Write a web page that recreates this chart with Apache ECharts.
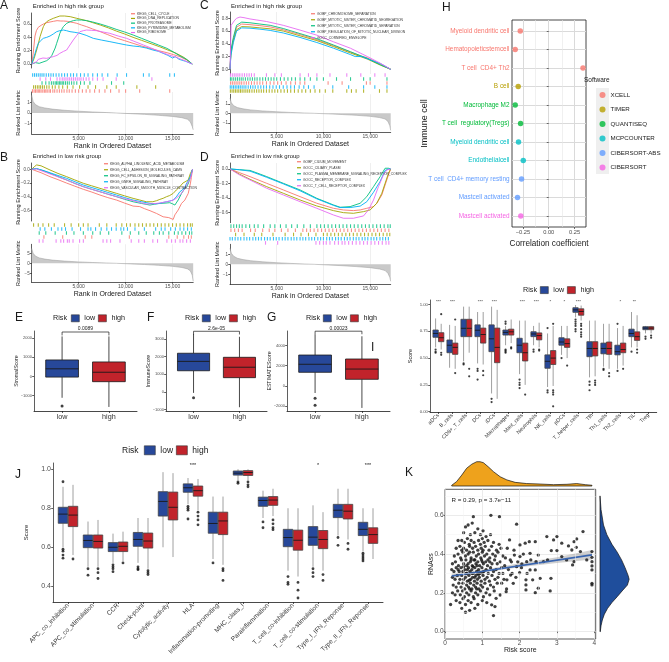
<!DOCTYPE html>
<html>
<head>
<meta charset="utf-8">
<title>Risk model figure</title>
<script src="https://cdn.jsdelivr.net/npm/echarts@6.0.0/dist/echarts.min.js"></script>
<style>
  html, body { margin: 0; padding: 0; background: #fff; }
  #chart { width: 669px; height: 662px; }
</style>
</head>
<body>
<div id="chart"></div>
<script>
// colours
const GS_COLORS = ['#F8766D', '#A3A500', '#00BF7D', '#00B0F6', '#E76BF3'];
const LOW_COLOR = '#27489a';
const HIGH_COLOR = '#c1232b';
const FONT = 'Liberation Sans, Arial, sans-serif';

// ---------------- GSEA (A-D) ----------------
const setsA = ['KEGG_CELL_CYCLE', 'KEGG_DNA_REPLICATION', 'KEGG_PROTEASOME', 'KEGG_PYRIMIDINE_METABOLISM', 'KEGG_RIBOSOME'];
const esA = [
  [[0,0],[150,0.15],[350,0.42],[500,0.5],[700,0.55],[1000,0.58],[1250,0.6],[1600,0.62],[1950,0.63],[2300,0.64],[2700,0.65],[3100,0.645],[3400,0.645],[3800,0.64],[4100,0.63],[4500,0.62],[4800,0.61],[5300,0.585],[5850,0.56],[6500,0.525],[7300,0.485],[8100,0.44],[9000,0.39],[9900,0.35],[10800,0.31],[11700,0.27],[12600,0.235],[13500,0.2],[14400,0.17],[15100,0.14],[15800,0.11],[16500,0.06],[17100,0]],
  [[0,0],[250,0.08],[530,0.21],[700,0.3],[890,0.41],[1050,0.48],[1240,0.56],[1400,0.6],[1600,0.635],[1900,0.66],[2300,0.685],[2600,0.7],[3000,0.72],[3500,0.72],[4100,0.71],[4800,0.685],[5850,0.65],[6500,0.62],[7300,0.585],[8200,0.54],[9000,0.495],[9900,0.45],[10800,0.4],[11700,0.355],[12600,0.31],[13600,0.26],[14500,0.21],[15400,0.16],[16200,0.1],[17100,0]],
  [[0,0],[400,0.02],[800,0.01],[1200,0.03],[1600,0.05],[1950,0.09],[2150,0.13],[2300,0.16],[2500,0.24],[2660,0.31],[2850,0.39],[3000,0.46],[3200,0.52],[3370,0.56],[3550,0.59],[3720,0.61],[4100,0.635],[4430,0.65],[4800,0.66],[5300,0.66],[5850,0.65],[6500,0.63],[7300,0.6],[8200,0.56],[9000,0.52],[9900,0.48],[10800,0.435],[11700,0.385],[12600,0.335],[13500,0.285],[14400,0.235],[15100,0.18],[15800,0.12],[16500,0.07],[17100,0]],
  [[0,0],[180,0.08],[355,0.16],[500,0.23],[710,0.31],[950,0.35],[1240,0.385],[1600,0.4],[1950,0.42],[2300,0.45],[2660,0.485],[3000,0.5],[3370,0.51],[3700,0.5],[4080,0.485],[4600,0.475],[5140,0.46],[5800,0.43],[6560,0.385],[7400,0.36],[8330,0.335],[9200,0.31],[10100,0.285],[10800,0.27],[11500,0.26],[12200,0.24],[12900,0.21],[13500,0.19],[14000,0.16],[14500,0.13],[15000,0.09],[15300,0.11],[15700,0.07],[16400,0.04],[17100,0]],
  [[0,0],[530,0.035],[700,0.07],[890,0.1],[1200,0.09],[1600,0.085],[2000,0.1],[2300,0.11],[2700,0.13],[3000,0.16],[3400,0.19],[3720,0.21],[4000,0.27],[4430,0.36],[4800,0.43],[5140,0.485],[5500,0.5],[5850,0.51],[6400,0.505],[6900,0.5],[7600,0.48],[8330,0.46],[9200,0.42],[10100,0.385],[11000,0.335],[11900,0.285],[12800,0.235],[13650,0.185],[14500,0.14],[15400,0.1],[16300,0.05],[17100,0]]
];
const hitsA = [
  [80,250,400,560,700,850,1000,1180,1350,1500,1650,1850,2000,2250,2450,2700,2950,3200,3450,3750,4000,4300,4650,5000,5400,5800,6200,6700,7200,7800,8400,9300,10000,11500,14700],
  [200,400,600,780,950,1150,1350,1600,1850,2200,2500,2900,3300,3800,4400,5100,6000,6800,8000,9000,11200,13200],
  [1100,1500,1850,2100,2300,2500,2650,2800,2950,3100,3250,3400,3600,3800,4000,4250,4500,4800,5200,5600,6200,8500,9800],
  [100,300,500,700,900,1100,1300,1550,1800,2050,2300,2600,2900,3200,3500,3800,4150,4450,4800,5200,5600,6000,6500,7000,7500,8100,9100,10100,11900,12500,14700,15200],
  [900,1500,2000,2700,3000,3250,3450,3650,3850,4050,4250,4450,4650,4850,5050,5250,5500,5800,6100,6500,7000,7600,9000,12800]
];
const rowsA = [3, 4, 2, 1, 0]; // hit rows from top
const metricA = [[0,1.7],[150,1.1],[400,0.8],[800,0.6],[1400,0.48],[2200,0.37],[3500,0.26],[5000,0.17],[6500,0.1],[8000,0.04],[9000,0],[10500,-0.06],[12000,-0.13],[13500,-0.22],[15000,-0.33],[16000,-0.45],[16600,-0.6],[16900,-0.85],[17100,-1.3],[17200,-1.6]];

const setsB = ['KEGG_ALPHA_LINOLENIC_ACID_METABOLISM', 'KEGG_CELL_ADHESION_MOLECULES_CAMS', 'KEGG_FC_EPSILON_RI_SIGNALING_PATHWAY', 'KEGG_GNRH_SIGNALING_PATHWAY', 'KEGG_VASCULAR_SMOOTH_MUSCLE_CONTRACTION'];
const esB = [
  [[0,0],[1000,-0.05],[1950,-0.107],[2800,-0.15],[3720,-0.2],[4600,-0.245],[5500,-0.29],[6400,-0.33],[7270,-0.373],[8100,-0.41],[9040,-0.446],[9900,-0.49],[10800,-0.533],[11000,-0.52],[11500,-0.54],[12000,-0.57],[12600,-0.6],[13300,-0.64],[14000,-0.688],[14200,-0.67],[14600,-0.7],[15070,-0.726],[15250,-0.66],[15450,-0.67],[15600,-0.59],[15800,-0.6],[15960,-0.494],[16150,-0.5],[16310,-0.446],[16500,-0.44],[16670,-0.35],[16800,-0.33],[16910,-0.2],[17000,-0.12],[17130,0]],
  [[0,0],[300,0.04],[530,0.063],[1000,0.05],[1950,-0.01],[2800,-0.06],[3720,-0.107],[4600,-0.155],[5500,-0.203],[6400,-0.24],[7270,-0.276],[8100,-0.31],[9040,-0.349],[9900,-0.385],[10800,-0.421],[11500,-0.445],[12200,-0.47],[12900,-0.47],[13300,-0.455],[13650,-0.436],[14000,-0.42],[14360,-0.397],[14700,-0.38],[15070,-0.349],[15400,-0.3],[15780,-0.252],[16100,-0.2],[16300,-0.18],[16670,-0.155],[16900,-0.06],[17130,0]],
  [[0,0],[500,0.01],[1200,-0.02],[1950,-0.058],[2800,-0.105],[3720,-0.155],[4600,-0.205],[5500,-0.252],[6400,-0.29],[7270,-0.325],[8100,-0.36],[9040,-0.397],[9900,-0.435],[10800,-0.47],[11700,-0.495],[12590,-0.518],[13100,-0.505],[13650,-0.494],[14200,-0.49],[14700,-0.484],[15000,-0.5],[15250,-0.518],[15600,-0.445],[15960,-0.349],[16200,-0.3],[16500,-0.252],[16700,-0.2],[16900,-0.107],[17130,0]],
  [[0,0],[500,0.01],[1200,-0.015],[1950,-0.05],[2800,-0.09],[3720,-0.131],[4600,-0.18],[5500,-0.228],[6400,-0.265],[7270,-0.3],[8100,-0.335],[9040,-0.373],[9900,-0.41],[10800,-0.446],[11700,-0.47],[12590,-0.494],[13100,-0.5],[13650,-0.494],[14000,-0.48],[14360,-0.47],[14700,-0.46],[15070,-0.446],[15400,-0.4],[15780,-0.325],[16050,-0.3],[16310,-0.252],[16600,-0.18],[16900,-0.107],[17130,0]],
  [[0,0],[500,0.005],[1200,-0.03],[1950,-0.068],[2800,-0.11],[3720,-0.155],[4600,-0.205],[5500,-0.252],[6400,-0.29],[7270,-0.325],[8100,-0.36],[9040,-0.397],[9900,-0.425],[10800,-0.455],[11500,-0.48],[12230,-0.504],[12800,-0.5],[13300,-0.494],[13800,-0.485],[14360,-0.47],[14700,-0.46],[15070,-0.446],[15400,-0.42],[15780,-0.373],[16050,-0.33],[16310,-0.276],[16600,-0.2],[16900,-0.131],[17050,-0.05],[17130,0]]
];
const hitsB = [
  [1300,3300,5700,6400,10400,14600,15500,16200,16700,17000],
  [200,700,1200,1800,2400,3500,4200,5000,5500,6000,7200,8000,9000,9600,10100,10500,11000,11400,11800,12200,12600,13000,13400,13800,14200,14600,15000,15400,15800,16200,16600,16900,17100],
  [800,1500,2500,3700,4500,5500,6500,7300,8200,9600,10500,11400,12200,13000,13600,14000,14600,15200,15600,16000,16400,16800,17050],
  [900,1400,2100,2800,3200,3600,4300,5200,6000,6300,6800,7400,8000,8500,9000,9500,9800,10200,11000,12000,13200,13800,14200,14800,15300,15800,16200,16600,17000],
  [800,1200,2600,3100,3400,3800,4000,4400,5100,5500,7600,8000,8400,9400,10600,11400,12000,12900,13400,14400,14900,15300,15800,16100,16500,16900]
];
const rowsB = [1, 3, 2, 0, 4];
const metricB = [[0,7.5],[150,5.0],[400,3.6],[800,2.7],[1400,2.1],[2200,1.6],[3500,1.1],[5000,0.7],[6500,0.4],[8000,0.15],[9000,0],[10500,-0.3],[12000,-0.6],[13500,-1.0],[15000,-1.5],[16000,-2.1],[16600,-2.8],[16900,-3.8],[17100,-6],[17200,-9]];

const setsC = ['GOBP_CHROMOSOME_SEPARATION', 'GOBP_MITOTIC_SISTER_CHROMATID_SEGREGATION', 'GOBP_MITOTIC_SISTER_CHROMATID_SEPARATION', 'GOBP_REGULATION_OF_MITOTIC_NUCLEAR_DIVISION', 'GOCC_CORNIFIED_ENVELOPE'];
const esC = [
  [[0,0],[100,0.28],[360,0.47],[700,0.66],[1250,0.71],[2140,0.7],[3200,0.685],[4300,0.665],[5700,0.62],[7500,0.545],[9300,0.465],[11100,0.37],[12900,0.27],[14000,0.21],[14700,0.18],[16100,0.08],[17200,0]],
  [[0,0],[100,0.25],[360,0.45],[700,0.62],[1250,0.67],[2140,0.665],[3200,0.65],[4300,0.635],[5700,0.6],[7500,0.525],[9300,0.45],[11100,0.355],[12900,0.255],[14700,0.16],[16100,0.065],[17200,0]],
  [[0,0],[100,0.3],[360,0.5],[700,0.69],[1250,0.74],[2140,0.73],[3200,0.71],[4300,0.69],[5700,0.64],[7500,0.56],[9300,0.48],[11100,0.38],[12900,0.275],[14700,0.17],[16100,0.07],[17200,0]],
  [[0,0],[100,0.22],[360,0.42],[700,0.6],[1250,0.65],[2140,0.645],[3200,0.63],[4300,0.61],[5700,0.57],[7500,0.5],[9300,0.42],[11100,0.33],[12900,0.23],[13400,0.2],[14100,0.2],[14700,0.165],[16100,0.09],[17200,0]],
  [[0,0],[60,0.35],[120,0.69],[250,0.68],[450,0.76],[700,0.8],[1070,0.82],[1500,0.81],[2140,0.79],[2800,0.775],[3900,0.75],[5700,0.69],[7500,0.615],[9300,0.535],[11100,0.43],[12900,0.33],[14700,0.2],[16100,0.094],[17200,0]]
];
const hitsC = [
  [60,250,450,650,850,1050,1250,1500,1750,2000,2300,2600,2900,3200,3500,3900,4300,4700,5100,5500,6000,6500,7000,7500,8000,10500,12000,14600,15000,16800],
  [40,220,400,580,760,940,1120,1300,1500,1700,1900,2100,2350,2600,2850,3100,3350,3600,3900,4200,4500,4800,5100,5450,5800,6150,6500,6900,7300,7700,8100,8600,9100,9600,10200,11000,12500,13000,13500,14300,16000,16800],
  [50,200,400,600,800,1000,1200,1400,1650,1900,2150,2400,2650,2900,3200,3500,3800,4100,4400,4700,5000,5400,5800,6200,6600,7000,7500,8000,8600,9300,10000,11400,12900,14300,15000,16800],
  [30,200,380,560,740,920,1100,1300,1500,1700,1950,2200,2450,2700,3000,3300,3600,3900,4250,4600,4950,5300,5700,6100,6500,6900,7400,7900,8400,9000,11000,12700,14300,15500,16800],
  [50,250,450,650,850,1050,1300,1550,1800,2050,2300,2600,3900,4800,5500,7500,8400,9300,10700,12500,14000,15500,16600]
];
const rowsC = [4, 2, 0, 3, 1];
const metricC = [[0,1.6],[150,1.1],[400,0.8],[800,0.6],[1400,0.47],[2200,0.36],[3500,0.25],[5000,0.16],[6500,0.09],[8000,0.03],[9000,0],[10500,-0.06],[12000,-0.13],[13500,-0.21],[15000,-0.32],[16000,-0.45],[16600,-0.6],[16900,-0.85],[17100,-1.3],[17200,-1.8]];

const setsD = ['GOBP_CILIUM_MOVEMENT', 'GOCC_CILIARY_PLASM', 'GOCC_PLASMA_MEMBRANE_SIGNALING_RECEPTOR_COMPLEX', 'GOCC_RECEPTOR_COMPLEX', 'GOCC_T_CELL_RECEPTOR_COMPLEX'];
const esD = [
  [[0,0],[1000,-0.05],[2140,-0.105],[3930,-0.197],[5710,-0.288],[7500,-0.38],[9290,-0.471],[11070,-0.54],[12140,-0.563],[13210,-0.572],[13930,-0.563],[14640,-0.54],[15360,-0.517],[15710,-0.471],[16250,-0.357],[16600,-0.22],[16960,-0.082],[17200,0]],
  [[0,0],[1000,-0.07],[2140,-0.142],[3930,-0.243],[5710,-0.334],[7500,-0.426],[9290,-0.508],[11070,-0.572],[12140,-0.6],[13210,-0.609],[14290,-0.586],[15000,-0.563],[15710,-0.471],[16250,-0.334],[16600,-0.197],[16960,-0.06],[17200,0]],
  [[0,0],[1000,-0.01],[2140,-0.02],[3000,-0.06],[3930,-0.105],[5710,-0.197],[7500,-0.288],[9290,-0.403],[11070,-0.494],[11780,-0.526],[12860,-0.517],[13930,-0.471],[14640,-0.38],[15360,-0.243],[16070,-0.105],[16600,0.01],[16960,0.01],[17200,0]],
  [[0,0],[1000,-0.01],[2140,-0.03],[3000,-0.07],[3930,-0.115],[5710,-0.205],[7500,-0.3],[9290,-0.41],[11070,-0.5],[11780,-0.53],[12860,-0.53],[13930,-0.51],[14640,-0.45],[15360,-0.32],[16070,-0.17],[16600,-0.02],[16960,0],[17200,0]],
  [[0,0],[1000,-0.08],[2140,-0.151],[3930,-0.265],[5710,-0.357],[7500,-0.449],[9290,-0.54],[11070,-0.632],[12140,-0.677],[13210,-0.677],[14290,-0.645],[14820,-0.563],[15360,-0.426],[15890,-0.243],[16420,-0.082],[16780,-0.014],[17200,0]]
];
const hitsD = [
  [100,500,900,1300,2200,2700,3500,4200,4800,5500,6200,7000,7800,8200,8600,9000,9400,9800,10200,10600,11000,11400,11800,12200,12600,13000,13400,13800,14200,14600,15000,15400,15800,16200,16600,17000],
  [600,1500,2600,3400,4600,5900,6800,7600,8400,9200,10000,10400,10800,11200,11600,12000,12400,12800,13200,13600,14000,14400,14800,15200,15600,16000,16400,16800,17100],
  [100,400,700,1000,1300,1700,2100,2600,3000,3600,4300,4800,5400,6000,6600,7200,7900,8600,9300,9700,10100,10500,10900,11300,11700,12100,12500,12900,13300,13700,14100,14500,14900,15300,15700,16100,16500,16900,17150],
  [0,250,550,850,1150,1500,1800,2100,2450,2750,3050,3350,3700,4000,4300,4650,4950,5250,5600,5900,6200,6550,6850,7150,7500,7800,8100,8450,8750,9050,9400,9700,10000,10350,10650,10950,11300,11600,11900,12250,12550,12850,13200,13500,13800,14150,14450,14750,15100,15400,15700,16050,16350,16650,16950],
  [3800,5100,9200,9600,10000,10300,10700,11200,11600,12000,12300,12700,13100,13500,13900,14300,14700,15100,15500,15900,16300,16700,17000]
];
const rowsD = [2, 0, 1, 3, 4];
const metricD = [[0,1.6],[150,1.1],[400,0.8],[800,0.6],[1400,0.47],[2200,0.36],[3500,0.25],[5000,0.16],[6500,0.09],[8000,0.03],[9000,0],[10500,-0.07],[12000,-0.14],[13500,-0.23],[15000,-0.34],[16000,-0.47],[16600,-0.62],[16900,-0.9],[17100,-1.3],[17200,-1.7]];
const rankTicks = [5000, 10000, 15000];

// ---------------- H: correlation lollipop ----------------
const immuneCells = ['Myeloid dendritic cell', 'Hematopoieticstemcell', 'T cell  CD4+ Th2', 'B cell', 'Macrophage M2', 'T cell  regulatory(Tregs)', 'Myeloid dendritic cell', 'Endothelialcell', 'T cell  CD4+ memory resting', 'Mastcell activated', 'Mastcell activated'];
const cellSoftware = ['XCELL', 'XCELL', 'XCELL', 'TIMER', 'QUANTISEQ', 'QUANTISEQ', 'MCPCOUNTER', 'MCPCOUNTER', 'CIBERSORT-ABS', 'CIBERSORT-ABS', 'CIBERSORT'];
const cellCorr = [-0.275, -0.324, 0.331, -0.295, -0.324, -0.272, -0.292, -0.246, -0.263, -0.302, -0.270];
const softwares = ['XCELL', 'TIMER', 'QUANTISEQ', 'MCPCOUNTER', 'CIBERSORT-ABS', 'CIBERSORT'];
const softwareColors = ['#F8766D', '#B79F00', '#00BA38', '#00BFC4', '#619CFF', '#F564E3'];

// ---------------- E/F/G: ESTIMATE scores ----------------
const riskGroups = ['low', 'high'];
const stromalStats = [[-1120, -36, 400, 865, 2100], [-1600, -275, 220, 760, 2100]];
const stromalOut = [[-1550], []];
const immuneStats = [[-50, 1200, 1730, 2190, 3280], [-860, 810, 1400, 1960, 3120]];
const immuneOut = [[-330], []];
const estimateStats = [[-690, 1350, 2140, 3050, 5100], [-2160, 660, 1670, 2660, 4900]];
const estimateOut = [[-1210, -1900], []];
const scorePvals = ['0.0089', '2.6e-05', '0.00023'];

// ---------------- I: immune cell scores ----------------
const cellsI = ['aDCs', 'B_cells', 'CD8+_T_cells', 'DCs', 'iDCs', 'Macrophages', 'Mast_cells', 'Neutrophils', 'NK_cells', 'pDCs', 'T_helper_cells', 'Tfh', 'Th1_cells', 'Th2_cells', 'TIL', 'Treg'];
const lowI = [[0.60,0.694,0.73,0.762,0.87],[0.41,0.55,0.62,0.669,0.81],[0.47,0.70,0.778,0.862,0.98],[0.45,0.70,0.76,0.81,0.93],[0.17,0.56,0.68,0.81,0.98],[0.62,0.715,0.74,0.762,0.80],[0.35,0.55,0.62,0.685,0.85],[0.62,0.70,0.725,0.746,0.80],[0.23,0.405,0.47,0.53,0.73],[0.53,0.62,0.65,0.69,0.80],[0.88,0.927,0.95,0.97,0.995],[0.32,0.513,0.59,0.653,0.85],[0.42,0.54,0.59,0.64,0.82],[0.40,0.53,0.56,0.62,0.78],[0.60,0.70,0.73,0.77,0.93],[0.73,0.765,0.78,0.793,0.80]];
const highI = [[0.58,0.653,0.69,0.737,0.82],[0.40,0.535,0.60,0.64,0.80],[0.55,0.70,0.778,0.862,0.98],[0.44,0.64,0.72,0.78,0.93],[0.12,0.457,0.60,0.78,0.95],[0.64,0.715,0.745,0.77,0.86],[0.25,0.473,0.55,0.64,0.85],[0.60,0.67,0.71,0.735,0.83],[0.24,0.44,0.50,0.57,0.80],[0.50,0.60,0.635,0.68,0.80],[0.85,0.90,0.935,0.96,0.99],[0.33,0.52,0.59,0.653,0.85],[0.40,0.535,0.59,0.65,0.82],[0.43,0.55,0.58,0.64,0.80],[0.60,0.665,0.70,0.745,0.90],[0.73,0.765,0.78,0.793,0.80]];
const lowOutI = [[0.58,0.56,0.55],[],[0.45,0.44],[0.40,0.38,0.30],[0.12,0.09],[0.84,0.82,0.58,0.57,0.56,0.55],[0.30,0.27,0.25,0.22],[0.58,0.56],[0.20,0.18,0.78],[0.50],[0.86,0.84,0.82,0.80,0.77,0.75],[0.28,0.25,0.20],[0.40,0.39],[0.38,0.82],[0.56],[0.70,0.68]];
const highOutI = [[0.91,0.55,0.53],[0.86,0.36],[0.40,0.33],[0.38,0.34],[],[0.60,0.59],[0.16],[0.58,0.57],[0.82,0.20,0.18,0.16,0.05],[0.43],[0.82,0.80,0.77,0.74,0.72,0.70],[0.29,0.27,0.25],[0.36,0.33],[0.40],[0.58,0.55],[0.71,0.69]];
const sigI = ['***', '***', '', '***', '***', '', '***', '***', '*', '*', '***', '', '', '*', '**', ''];

// ---------------- J: immune function scores ----------------
const functionsJ = ['APC_co_inhibition', 'APC_co_stimulation', 'CCR', 'Check-point', 'Cytolytic_activity', 'HLA', 'Inflammation-promoting', 'MHC_class_I', 'Parainflammation', 'T_cell_co-inhibition', 'T_cell_co-stimulation', 'Type_I_IFN_Reponse', 'Type_II_IFN_Reponse'];
const lowJ = [[0.60,0.723,0.77,0.805,0.91],[0.50,0.598,0.635,0.663,0.732],[0.52,0.578,0.60,0.624,0.67],[0.52,0.605,0.64,0.676,0.75],[0.60,0.76,0.835,0.885,0.985],[0.82,0.882,0.905,0.925,0.955],[0.54,0.672,0.722,0.78,0.86],[0.945,0.97,0.98,0.991,1.0],[0.75,0.81,0.84,0.857,0.89],[0.48,0.603,0.65,0.692,0.80],[0.50,0.61,0.652,0.706,0.815],[0.66,0.752,0.79,0.82,0.90],[0.58,0.66,0.692,0.728,0.80]];
const highJ = [[0.56,0.706,0.765,0.81,0.92],[0.50,0.596,0.63,0.663,0.74],[0.53,0.578,0.605,0.627,0.68],[0.49,0.596,0.632,0.673,0.75],[0.55,0.74,0.805,0.883,0.98],[0.79,0.862,0.89,0.914,0.95],[0.51,0.665,0.735,0.78,0.86],[0.945,0.968,0.983,0.993,1.0],[0.76,0.815,0.842,0.86,0.90],[0.45,0.585,0.636,0.688,0.80],[0.48,0.593,0.64,0.686,0.78],[0.64,0.745,0.785,0.82,0.90],[0.54,0.62,0.665,0.70,0.80]];
const lowOutJ = [[0.936,0.59,0.58,0.56,0.544],[0.49,0.457],[0.51,0.50,0.49,0.475],[0.50,0.49,0.485],[],[0.81,0.80,0.79,0.745],[0.52],[0.935,0.928],[0.73,0.70],[0.45,0.42,0.41],[0.49,0.47,0.45],[0.65,0.61],[0.57,0.56,0.55,0.54,0.53]];
const highOutJ = [[0.54],[0.49,0.47,0.44],[0.52],[0.48,0.47,0.46],[],[0.78,0.76,0.74,0.715],[0.49,0.48,0.43],[0.935,0.92,0.91],[0.74,0.72,0.70,0.69],[0.42,0.38,0.34],[0.46,0.43],[0.62,0.59],[]];
const sigJ = ['', '', '', '', '', '***', '', '', '', '', '*', '', '***'];

// ---------------- K: risk score vs RNAss ----------------
const riskRnass = [
  [0.55,0.54],[0.62,0.55],[0.73,0.56],[0.88,0.53],[0.95,0.5],[1.02,0.52],[1.1,0.49],[0.5,0.51],[0.68,0.5],[1.22,0.5],[0.8,0.51],
  [0.45,0.47],[0.52,0.46],[0.6,0.48],[0.7,0.47],[0.78,0.46],[0.9,0.47],[1.0,0.48],[1.05,0.46],[1.15,0.47],[1.3,0.46],[1.45,0.45],[0.35,0.47],[0.65,0.45],[0.95,0.45],
  [0.3,0.43],[0.4,0.44],[0.5,0.43],[0.58,0.42],[0.66,0.44],[0.74,0.43],[0.82,0.44],[0.88,0.42],[0.97,0.43],[1.08,0.44],[1.18,0.42],[1.25,0.44],[1.38,0.42],[1.5,0.43],[0.45,0.42],[1.02,0.42],
  [0.25,0.39],[0.35,0.4],[0.42,0.38],[0.48,0.41],[0.55,0.39],[0.62,0.4],[0.7,0.38],[0.76,0.41],[0.84,0.39],[0.9,0.4],[0.96,0.38],[1.0,0.41],[1.06,0.39],[1.12,0.4],[1.2,0.38],[1.28,0.4],[1.35,0.39],[1.42,0.41],[1.55,0.39],[0.8,0.37],[0.66,0.41],[1.15,0.37],
  [0.2,0.35],[0.28,0.36],[0.36,0.34],[0.44,0.37],[0.5,0.35],[0.56,0.37],[0.62,0.35],[0.68,0.36],[0.73,0.34],[0.78,0.37],[0.83,0.35],[0.88,0.36],[0.93,0.34],[0.98,0.37],[1.03,0.35],[1.09,0.36],[1.14,0.34],[1.2,0.36],[1.26,0.35],[1.33,0.37],[1.4,0.35],[1.48,0.36],[0.58,0.34],[0.86,0.34],[1.0,0.36],[0.7,0.37],
  [0.18,0.32],[0.24,0.31],[0.3,0.33],[0.38,0.31],[0.43,0.33],[0.48,0.31],[0.53,0.32],[0.58,0.3],[0.63,0.33],[0.67,0.31],[0.72,0.32],[0.76,0.3],[0.8,0.33],[0.85,0.31],[0.9,0.32],[0.94,0.3],[0.99,0.33],[1.04,0.31],[1.1,0.32],[1.16,0.3],[1.22,0.33],[1.3,0.31],[1.37,0.32],[1.45,0.3],[1.52,0.33],[0.6,0.32],[0.75,0.335],[0.88,0.3],[1.0,0.305],[0.5,0.335],[0.35,0.32],
  [0.2,0.28],[0.27,0.27],[0.33,0.29],[0.4,0.27],[0.45,0.29],[0.5,0.27],[0.55,0.28],[0.6,0.26],[0.64,0.29],[0.69,0.27],[0.74,0.28],[0.79,0.26],[0.83,0.29],[0.87,0.27],[0.92,0.28],[0.97,0.26],[1.02,0.29],[1.07,0.27],[1.13,0.28],[1.19,0.26],[1.26,0.29],[1.34,0.27],[1.42,0.28],[0.57,0.3],[0.72,0.3],[0.9,0.295],[0.65,0.265],[0.8,0.28],
  [0.22,0.24],[0.3,0.23],[0.37,0.25],[0.43,0.23],[0.48,0.25],[0.53,0.22],[0.58,0.24],[0.63,0.23],[0.68,0.25],[0.72,0.22],[0.77,0.24],[0.82,0.23],[0.86,0.25],[0.91,0.22],[0.96,0.24],[1.01,0.23],[1.07,0.25],[1.14,0.22],[1.22,0.24],[1.3,0.23],[1.4,0.25],[0.66,0.22],[0.85,0.22],
  [0.2,0.2],[0.27,0.19],[0.34,0.21],[0.41,0.19],[0.47,0.21],[0.52,0.18],[0.58,0.2],[0.64,0.19],[0.7,0.21],[0.76,0.18],[0.82,0.2],[0.88,0.19],[0.95,0.21],[1.03,0.18],[1.1,0.2],[1.2,0.19],[1.32,0.21],
  [0.15,0.14],[0.3,0.16],[0.4,0.15],[0.48,0.17],[0.55,0.14],[0.62,0.16],[0.7,0.15],[0.78,0.17],[0.88,0.14],[1.0,0.16],[1.12,0.15],
  [0.55,0.1],[0.66,0.11],[0.45,0.12],[0.8,0.12],
  [1.55,0.3],[1.6,0.34],[1.58,0.27],[1.7,0.32],[1.62,0.38],[1.52,0.25],[1.65,0.22],[1.78,0.36],[1.8,0.3],[1.9,0.28],[1.85,0.42],[1.95,0.36],[2.05,0.33],[2.1,0.4],[2.3,0.37],[2.2,0.3],
  [1.92,0.554],[1.46,0.593],[1.23,0.6],[0.76,0.593],[3.7,0.516],[3.53,0.478],[3.0,0.49],[2.73,0.49],[2.91,0.473],[3.13,0.456],[3.46,0.464],[3.31,0.442],[3.52,0.435],[3.4,0.421],[3.63,0.413],
  [3.94,0.413],[3.94,0.383],[3.94,0.361],[3.94,0.339],[3.94,0.318],[3.94,0.249],[3.94,0.241],[2.85,0.418],[3.0,0.418],[2.42,0.464],[2.26,0.464],[2.15,0.456],[2.01,0.447],[1.73,0.473],[1.67,0.43],
  [2.28,0.404],[2.5,0.395],[2.64,0.361],[2.75,0.37],[2.44,0.361],[2.19,0.361],[2.28,0.318],[2.42,0.318],[2.55,0.275],[2.84,0.275],[2.17,0.267],[2.17,0.241],[2.17,0.215],[2.42,0.201],[2.5,0.224],
  [2.35,0.267],[2.82,0.21],[2.0,0.304],[1.92,0.335],[2.06,0.349],[1.76,0.292],[1.83,0.249],[1.66,0.267],[1.64,0.206],[1.86,0.395],[2.01,0.387],[1.75,0.37],[3.13,0.387],[3.26,0.37],[3.42,0.344],
  [3.46,0.361],[3.8,0.37],[1.48,0.189],[1.37,0.172],[1.34,0.129],[1.3,0.083],[1.25,0.138]
];
const fitLine = [[0.18, 0.287], [3.94, 0.396]];
const bandX = [0.18, 1, 2, 3, 3.94];
const bandLo = [0.273, 0.305, 0.332, 0.354, 0.372];
const bandHi = [0.301, 0.318, 0.352, 0.384, 0.421];
const riskDensX = [0.18, 0.31, 0.45, 0.58, 0.72, 0.85, 0.94, 1.03, 1.16, 1.3, 1.48, 1.66, 1.88, 2.19, 2.55, 2.91, 3.27, 3.53, 3.76, 3.94];
const riskDens = [0.03, 0.18, 0.45, 0.73, 0.9, 1.0, 1.0, 0.96, 0.79, 0.59, 0.38, 0.25, 0.15, 0.1, 0.08, 0.055, 0.07, 0.1, 0.055, 0.03];
const rnassDensY = [0.70, 0.63, 0.55, 0.50, 0.45, 0.41, 0.37, 0.33, 0.29, 0.27, 0.24, 0.21, 0.18, 0.15, 0.12, 0.09, 0.06, 0.03, 0.0];
const rnassDens = [0, 0.035, 0.12, 0.235, 0.41, 0.59, 0.74, 0.86, 0.965, 1.0, 0.94, 0.76, 0.59, 0.41, 0.26, 0.15, 0.08, 0.035, 0.01];

// ================= option building =================
const option = {
  animation: false,
  textStyle: { fontFamily: FONT },
  grid: [], xAxis: [], yAxis: [], series: [], legend: [],
  graphic: { elements: [] }
};

function addGrid(rect, xAxis, yAxis) {
  const idx = option.grid.length;
  option.grid.push(Object.assign({ containLabel: false }, rect));
  xAxis.gridIndex = idx;
  yAxis.gridIndex = idx;
  option.xAxis.push(xAxis);
  option.yAxis.push(yAxis);
  return idx;
}

function minus(s) { return String(s).replace('-', '\u2212'); }

function txt(x, y, s, size, opt) {
  opt = opt || {};
  option.graphic.elements.push({
    type: 'text', x: x, y: y, rotation: opt.rot || 0, silent: true, z: 50,
    style: {
      text: s, fontSize: size, fontFamily: FONT, fill: opt.color || '#1a1a1a',
      align: opt.align || 'left', textAlign: opt.align || 'left',
      verticalAlign: opt.va || 'middle', textVerticalAlign: opt.va || 'middle'
    }
  });
}

function valueAxis(min, max, ticks, fmt, fs, extra) {
  return Object.assign({
    type: 'value', min: min, max: max,
    axisLine: { show: true, onZero: false, lineStyle: { color: '#1a1a1a', width: 0.7 } },
    axisTick: { show: true, length: 1.8, customValues: ticks, lineStyle: { color: '#1a1a1a', width: 0.7 } },
    axisLabel: { show: true, customValues: ticks, formatter: fmt, fontSize: fs, margin: 2, color: '#4d4d4d' },
    splitLine: { show: false }
  }, extra || {});
}

function axisName(name, gap, fs) {
  return { name: name, nameLocation: 'middle', nameGap: gap, nameMoveOverlap: false, nameTextStyle: { fontSize: fs, color: '#1a1a1a' } };
}

function hiddenAxis(min, max) {
  return { type: 'value', min: min, max: max, show: false, splitLine: { show: false } };
}

// ---------- GSEA panel ----------
function gsea(c) {
  const fmt1 = v => minus((+v).toFixed(1));
  const gridX = () => ({
    type: 'value', min: 0, max: 17200,
    axisLine: { show: false },
    axisTick: { show: false, customValues: rankTicks },
    axisLabel: { show: false, customValues: rankTicks },
    splitLine: { show: true, lineStyle: { color: '#e8e8e8', width: 0.7 } }
  });
  const gEs = addGrid({ left: c.left, top: c.es[0], width: c.width, height: c.es[1] },
    gridX(),
    valueAxis(c.es[2], c.es[3], c.es[4], fmt1, 4.5, axisName('Running Enrichment Score', 10, 5.5)));
  c.curves.forEach((pts, k) => {
    option.series.push({
      type: 'line', name: c.names[k], xAxisIndex: gEs, yAxisIndex: gEs, data: pts,
      showSymbol: false, silent: true, lineStyle: { color: GS_COLORS[k], width: 0.9 }, itemStyle: { color: GS_COLORS[k] }
    });
  });

  const gHit = addGrid({ left: c.left, top: c.hit[0], width: c.width, height: c.hit[1] }, hiddenAxis(0, 17200), hiddenAxis(0, 5));
  c.hits.forEach((arr, k) => {
    const row = 4.5 - c.rows.indexOf(k);
    option.series.push({
      type: 'scatter', xAxisIndex: gHit, yAxisIndex: gHit, symbol: 'rect', symbolSize: [1.1, 3.6], silent: true,
      data: arr.map(r => [r, row]), itemStyle: { color: GS_COLORS[k] }
    });
  });

  const xm = gridX();
  xm.axisLine = { show: true, onZero: false, lineStyle: { color: '#1a1a1a', width: 0.7 } };
  xm.axisTick = { show: true, length: 1.5, customValues: rankTicks, lineStyle: { color: '#1a1a1a', width: 0.7 } };
  xm.axisLabel = { show: true, customValues: rankTicks, fontSize: 5, margin: 2, color: '#4d4d4d' };
  Object.assign(xm, axisName('Rank in Ordered Dataset', 8.5, 7));
  const gMet = addGrid({ left: c.left, top: c.met[0], width: c.width, height: c.met[1] },
    xm, valueAxis(c.met[2], c.met[3], c.met[4], v => minus(v), 4.5, axisName('Ranked List Metric', 10, 5.5)));
  option.series.push({
    type: 'line', xAxisIndex: gMet, yAxisIndex: gMet, data: c.metric, showSymbol: false, silent: true,
    lineStyle: { color: '#9a9a9a', width: 0.5 }, areaStyle: { color: '#c9c9c9', opacity: 1, origin: 0 }
  });

  option.legend.push({
    orient: 'vertical', left: c.leg[0], top: c.leg[1], itemGap: c.leg[2], padding: 0,
    itemWidth: 4, itemHeight: 1.2, icon: 'rect', selectedMode: false, data: c.names,
    textStyle: { fontSize: 3.3, lineHeight: 3.5, color: '#333', padding: [0, 0, 0, -3] }
  });
  txt(c.left + 1, c.titleY, c.title, 6);
}

gsea({ names: setsA, curves: esA, hits: hitsA, rows: rowsA, metric: metricA, title: 'Enriched in high risk group', titleY: 6,
  left: 31.7, width: 161.5, es: [13, 55, -0.06, 0.765, [0, 0.2, 0.4, 0.6]], hit: [73, 20], met: [92, 42, -2, 2, [-1, 0, 1]], leg: [131, 12, 1.2] });
gsea({ names: setsB, curves: esB, hits: hitsB, rows: rowsB, metric: metricB, title: 'Enriched in low risk group', titleY: 156,
  left: 31.7, width: 161.5, es: [163, 58, -0.749, 0.091, [-0.6, -0.4, -0.2, 0]], hit: [223, 20], met: [244.3, 38, -9.5, 9.5, [-5, 0, 5]], leg: [104, 162, 2.5] });
gsea({ names: setsC, curves: esC, hits: hitsC, rows: rowsC, metric: metricC, title: 'Enriched in high risk group', titleY: 6,
  left: 230, width: 160.7, es: [12, 62, -0.074, 0.899, [0, 0.2, 0.4, 0.6, 0.8]], hit: [73, 20], met: [94.3, 38, -2, 2, [-1, 0, 1]], leg: [311, 12, 2.5] });
gsea({ names: setsD, curves: esD, hits: hitsD, rows: rowsD, metric: metricD, title: 'Enriched in low risk group', titleY: 156.5,
  left: 230, width: 160.7, es: [163, 59.7, -0.738, 0.082, [-0.6, -0.4, -0.2, 0]], hit: [224, 21], met: [244.3, 40, -2, 2, [-1, 0, 1]], leg: [297, 160, 2.5] });

// ---------- H ----------
const rowIdx = immuneCells.map((_, i) => i + 1);
const gH = addGrid({ left: 512, top: 20, width: 74, height: 207, show: true, borderColor: '#1a1a1a', borderWidth: 0.8, backgroundColor: '#fff' },
  Object.assign({
    type: 'value', min: -0.355, max: 0.36,
    axisLine: { show: false },
    axisTick: { show: true, length: 2, customValues: [-0.25, 0, 0.25], lineStyle: { color: '#333', width: 0.7 } },
    axisLabel: { show: true, customValues: [-0.25, 0, 0.25], formatter: v => minus((+v).toFixed(2)), fontSize: 5.7, margin: 2, color: '#4d4d4d' },
    splitLine: { show: true, lineStyle: { color: '#dadada', width: 1 } }
  }, axisName('Correlation coefficient', 13, 8.2)),
  Object.assign({
    type: 'value', min: 0.4, max: 11.6, inverse: true,
    axisLine: { show: false },
    axisTick: { show: true, length: 2, customValues: rowIdx, lineStyle: { color: '#333', width: 0.7 } },
    axisLabel: { show: true, customValues: rowIdx, formatter: v => immuneCells[v - 1], fontSize: 6.4, margin: 2.5,
      color: v => softwareColors[softwares.indexOf(cellSoftware[Math.round(+v) - 1])] },
    splitLine: { show: true, lineStyle: { color: '#dadada', width: 1.2 } }
  }, axisName('Immune cell', 83, 9)));
softwares.forEach((sw, k) => {
  const pts = [];
  cellCorr.forEach((v, i) => { if (cellSoftware[i] === sw) pts.push([v, i + 1]); });
  const s = { type: 'scatter', name: sw, xAxisIndex: gH, yAxisIndex: gH, data: pts, symbolSize: 5.5, itemStyle: { color: softwareColors[k] }, z: 5 };
  if (k === 0) {
    s.markLine = { silent: true, symbol: 'none', label: { show: false }, lineStyle: { color: '#e6e6e6', width: 0.6, type: 'solid' },
      data: [{ xAxis: -0.125 }, { xAxis: 0.125 }] };
  }
  option.series.push(s);
});
option.graphic.elements.push({ type: 'rect', shape: { x: 596, y: 88, width: 13, height: 86 }, style: { fill: '#efefef' }, silent: true, z: 1 });
option.legend.push({
  orient: 'vertical', left: 599.5, top: 91.5, itemGap: 7.5, padding: 0, itemWidth: 6, itemHeight: 6, icon: 'circle',
  selectedMode: false, data: softwares, textStyle: { fontSize: 6.2, lineHeight: 7, color: '#1a1a1a' }
});
txt(584, 80, 'Software', 6.5);

// ---------- box helpers ----------
function boxRender(color, w, whisk, border) {
  return function (params, api) {
    const x = api.value(0);
    const pMin = api.coord([x, api.value(1)]);
    const pQ1 = api.coord([x, api.value(2)]);
    const pMed = api.coord([x, api.value(3)]);
    const pQ3 = api.coord([x, api.value(4)]);
    const pMax = api.coord([x, api.value(5)]);
    const half = api.size([w, 0])[0] / 2;
    const cx = pMin[0];
    return {
      type: 'group', children: [
        { type: 'line', shape: { x1: cx, y1: pMax[1], x2: cx, y2: pQ3[1] }, style: { stroke: whisk, lineWidth: 0.8 } },
        { type: 'line', shape: { x1: cx, y1: pQ1[1], x2: cx, y2: pMin[1] }, style: { stroke: whisk, lineWidth: 0.8 } },
        { type: 'rect', shape: { x: cx - half, y: pQ3[1], width: 2 * half, height: pQ1[1] - pQ3[1] }, style: { fill: color, stroke: border, lineWidth: 0.8 } },
        { type: 'line', shape: { x1: cx - half, y1: pMed[1], x2: cx + half, y2: pMed[1] }, style: { stroke: '#1a1a1a', lineWidth: 0.9 } }
      ]
    };
  };
}
function boxSeries(g, items, color, w, whisk, border, name) {
  return { type: 'custom', name: name, xAxisIndex: g, yAxisIndex: g, data: items, silent: true,
    encode: { x: 0, y: [1, 2, 3, 4, 5] }, itemStyle: { color: color }, renderItem: boxRender(color, w, whisk, border) };
}
function outlierSeries(g, pts, size) {
  return { type: 'scatter', xAxisIndex: g, yAxisIndex: g, data: pts, symbolSize: size, silent: true, itemStyle: { color: '#111' }, z: 4 };
}
function textSeries(g, pts, labels, fs) {
  return { type: 'custom', xAxisIndex: g, yAxisIndex: g, data: pts, silent: true,
    renderItem: function (params, api) {
      const p = api.coord([api.value(0), api.value(1)]);
      return { type: 'text', x: p[0], y: p[1], style: { text: labels[params.dataIndex], fontSize: fs, fontFamily: FONT, fill: '#1a1a1a',
        align: 'center', textAlign: 'center', verticalAlign: 'middle', textVerticalAlign: 'middle' } };
    } };
}
function riskLegend(left, top, iw, ih, fs, riskX) {
  option.legend.push({ left: left, top: top, itemGap: 3, padding: 0, itemWidth: iw, itemHeight: ih, icon: 'rect', selectedMode: false,
    data: riskGroups, itemStyle: { borderColor: '#333', borderWidth: 0.6 }, textStyle: { fontSize: fs, color: '#1a1a1a' } });
  txt(riskX, top + ih / 2 + 0.5, 'Risk', fs);
}

// ---------- E/F/G ----------
function scoreBox(c) {
  const g = addGrid({ left: c.left, top: 331, width: c.width, height: 80 },
    {
      type: 'value', min: 0.4, max: 2.6,
      axisLine: { show: true, onZero: false, lineStyle: { color: '#1a1a1a', width: 0.8 } },
      axisTick: { show: true, length: 2, customValues: [1, 2], lineStyle: { color: '#1a1a1a', width: 0.7 } },
      axisLabel: { show: true, customValues: [1, 2], formatter: v => riskGroups[v - 1], fontSize: 7.2, margin: 2.5, color: '#333' },
      splitLine: { show: false }
    },
    valueAxis(c.min, c.max, c.ticks, v => minus(v), 4, axisName(c.name, 14.5, 5.2)));
  option.series.push(boxSeries(g, [[1].concat(c.stats[0])], LOW_COLOR, 0.7, '#1a1a1a', '#1a1a1a', 'low'));
  option.series.push(boxSeries(g, [[2].concat(c.stats[1])], HIGH_COLOR, 0.7, '#1a1a1a', '#1a1a1a', 'high'));
  const outs = [];
  c.out.forEach((arr, i) => arr.forEach(v => outs.push([i + 1, v])));
  option.series.push(outlierSeries(g, outs, 3));
  // significance bracket
  option.series.push({
    type: 'custom', xAxisIndex: g, yAxisIndex: g, data: [[1, 2, c.bracket[0], c.bracket[1]]], silent: true,
    renderItem: function (params, api) {
      const a = api.coord([api.value(0), api.value(2)]);
      const b = api.coord([api.value(0), api.value(3)]);
      const d = api.coord([api.value(1), api.value(3)]);
      const e = api.coord([api.value(1), api.value(2)]);
      return { type: 'group', children: [
        { type: 'polyline', shape: { points: [a, b, d, e] }, style: { stroke: '#1a1a1a', lineWidth: 0.7, fill: 'none' } },
        { type: 'text', x: (b[0] + d[0]) / 2, y: b[1] - 0.5, style: { text: c.p, fontSize: 5, fontFamily: FONT, fill: '#1a1a1a',
          align: 'center', textAlign: 'center', verticalAlign: 'bottom', textVerticalAlign: 'bottom' } }
      ] };
    }
  });
}
scoreBox({ left: 34, width: 103, min: -1813, max: 2383, ticks: [-1000, 0, 1000, 2000], name: 'StromalScore', stats: stromalStats, out: stromalOut, bracket: [2150, 2330], p: scorePvals[0] });
scoreBox({ left: 166, width: 101, min: -1073, max: 3446, ticks: [-1000, 0, 1000, 2000, 3000], name: 'ImmuneScore', stats: immuneStats, out: immuneOut, bracket: [3250, 3430], p: scorePvals[1] });
scoreBox({ left: 287, width: 103, min: -2463, max: 5419, ticks: [-2000, 0, 2000, 4000], name: 'ESTIMATEScore', stats: estimateStats, out: estimateOut, bracket: [5100, 5400], p: scorePvals[2] });
riskLegend(71, 314.5, 8, 7, 7.2, 53);
riskLegend(202, 314.5, 8, 7, 7.2, 185);
riskLegend(323, 314.5, 8, 7, 7.2, 306);

// ---------- I / J ----------
function multiBox(c) {
  const n = c.cats.length;
  const idx = c.cats.map((_, i) => i + 1);
  const g = addGrid({ left: c.left, top: c.top, width: c.width, height: c.height },
    {
      type: 'value', min: 0.4, max: n + 0.6,
      axisLine: { show: true, onZero: false, lineStyle: { color: '#1a1a1a', width: 0.8 } },
      axisTick: { show: true, length: 2, customValues: idx, lineStyle: { color: '#1a1a1a', width: 0.7 } },
      axisLabel: { show: true, customValues: idx, formatter: v => c.cats[v - 1], rotate: 45, fontSize: c.xfs, margin: 2.5, color: '#333' },
      splitLine: { show: false }
    },
    valueAxis(c.min, c.max, c.ticks, c.fmt, c.yfs, axisName('Score', c.nameGap, c.nameFs)));
  option.series.push(boxSeries(g, c.low.map((s, i) => [i + 1 - 0.2].concat(s)), LOW_COLOR, 0.38, c.whisk, '#444', 'low'));
  option.series.push(boxSeries(g, c.high.map((s, i) => [i + 1 + 0.2].concat(s)), HIGH_COLOR, 0.38, c.whisk, '#444', 'high'));
  const outs = [];
  c.lowOut.forEach((arr, i) => arr.forEach(v => outs.push([i + 1 - 0.2, v])));
  c.highOut.forEach((arr, i) => arr.forEach(v => outs.push([i + 1 + 0.2, v])));
  option.series.push(outlierSeries(g, outs, c.dot));
  option.series.push(textSeries(g, idx.map(i => [i, c.sigY]), c.sig, c.sigFs));
}
multiBox({ cats: cellsI, low: lowI, high: highI, lowOut: lowOutI, highOut: highOutI, sig: sigI, sigY: 1.027, sigFs: 4.3,
  left: 430, top: 300, width: 226.7, height: 112, min: -0.003, max: 1.042, ticks: [0, 0.25, 0.5, 0.75, 1], fmt: v => (+v).toFixed(2),
  yfs: 4.3, xfs: 5.3, nameGap: 17, nameFs: 5.5, whisk: '#888', dot: 2.2 });
riskLegend(540, 286.3, 8, 7, 7.2, 523);
multiBox({ cats: functionsJ, low: lowJ, high: highJ, lowOut: lowOutJ, highOut: highOutJ, sig: sigJ, sigY: 1.02, sigFs: 5.5,
  left: 53, top: 463, width: 330, height: 139, min: 0.3195, max: 1.032, ticks: [0.4, 0.6, 0.8, 1.0], fmt: v => (+v).toFixed(1),
  yfs: 7, xfs: 6.5, nameGap: 24, nameFs: 6, whisk: '#888', dot: 2.8 });
riskLegend(144, 445.5, 11, 9, 8.5, 122);

// ---------- K ----------
const kTicksX = [0, 1, 2, 3, 4];
const kTicksY = [0, 0.2, 0.4, 0.6];
const gK = addGrid({ left: 445, top: 489.3, width: 150.7, height: 149.7, show: true, borderColor: '#333', borderWidth: 0.8, backgroundColor: '#fff' },
  Object.assign({
    type: 'value', min: 0, max: 4.04,
    axisLine: { show: false },
    axisTick: { show: true, length: 1.5, customValues: kTicksX, lineStyle: { color: '#333', width: 0.7 } },
    axisLabel: { show: true, customValues: kTicksX, fontSize: 6.5, margin: 1, color: '#4d4d4d' },
    splitLine: { show: true, lineStyle: { color: '#e6e6e6', width: 0.8 } }
  }, axisName('Risk score', 7.5, 7)),
  Object.assign({
    type: 'value', min: -0.038, max: 0.734,
    axisLine: { show: false },
    axisTick: { show: true, length: 1.5, customValues: kTicksY, lineStyle: { color: '#333', width: 0.7 } },
    axisLabel: { show: true, customValues: kTicksY, formatter: v => (+v).toFixed(1), fontSize: 6.5, margin: 1.5, color: '#4d4d4d' },
    splitLine: { show: true, lineStyle: { color: '#e6e6e6', width: 0.8 } }
  }, axisName('RNAss', 10, 7)));

function polySeries(g, pts, fill, z) {
  return { type: 'custom', xAxisIndex: g, yAxisIndex: g, data: [pts[0]], silent: true, z: z || 2,
    renderItem: function (params, api) {
      return { type: 'polygon', shape: { points: pts.map(p => api.coord(p)) }, style: { fill: fill, stroke: '#111', lineWidth: 0.7 } };
    } };
}
const bandPts = bandX.map((x, i) => [x, bandHi[i]]).concat(bandX.map((x, i) => [x, bandLo[i]]).reverse());
const band = polySeries(gK, bandPts, 'rgba(150,150,150,0.45)', 2);
band.renderItem = function (params, api) {
  return { type: 'polygon', shape: { points: bandPts.map(p => api.coord(p)) }, style: { fill: 'rgba(150,150,150,0.45)' } };
};
band.markLine = { silent: true, symbol: 'none', label: { show: false }, lineStyle: { color: '#f3f3f3', width: 0.5, type: 'solid' },
  data: [{ xAxis: 0.5 }, { xAxis: 1.5 }, { xAxis: 2.5 }, { xAxis: 3.5 }, { yAxis: 0.1 }, { yAxis: 0.3 }, { yAxis: 0.5 }, { yAxis: 0.7 }] };
option.series.push(band);
option.series.push({ type: 'scatter', xAxisIndex: gK, yAxisIndex: gK, data: riskRnass, symbolSize: 3.3, silent: true, itemStyle: { color: '#111' }, z: 3 });
option.series.push({ type: 'line', xAxisIndex: gK, yAxisIndex: gK, data: fitLine, showSymbol: false, silent: true, lineStyle: { color: '#3a66b0', width: 1.6 }, z: 4 });
txt(451.5, 500.5, 'R = 0.29, p = 3.7e\u221211', 6.2);

const gTop = addGrid({ left: 445, top: 461, width: 150.7, height: 25 }, hiddenAxis(0, 4.04), hiddenAxis(0, 1.03));
option.series.push(polySeries(gTop, [[riskDensX[0], 0]].concat(riskDensX.map((x, i) => [x, riskDens[i]])).concat([[riskDensX[riskDensX.length - 1], 0]]), '#eea21c'));
const gRight = addGrid({ left: 600, top: 489.3, width: 30, height: 149.7 }, hiddenAxis(0, 1.03), hiddenAxis(-0.038, 0.734));
option.series.push(polySeries(gRight, rnassDensY.map((y, i) => [rnassDens[i], y]).concat([[0, 0], [0, rnassDensY[0]]]), '#1f4e9c'));

// ---------- panel letters ----------
[['A', 0, 0], ['B', 0, 152], ['C', 200, 0], ['D', 200, 152], ['H', 442, 2], ['E', 15, 312], ['F', 147, 312], ['G', 267, 312], ['I', 371, 342], ['J', 15, 469], ['K', 405, 467]]
  .forEach(l => txt(l[1], l[2], l[0], 12, { va: 'top' }));

const chart = echarts.init(document.getElementById('chart'), null, { renderer: 'canvas' });
chart.setOption(option);
</script>
</body>
</html>
